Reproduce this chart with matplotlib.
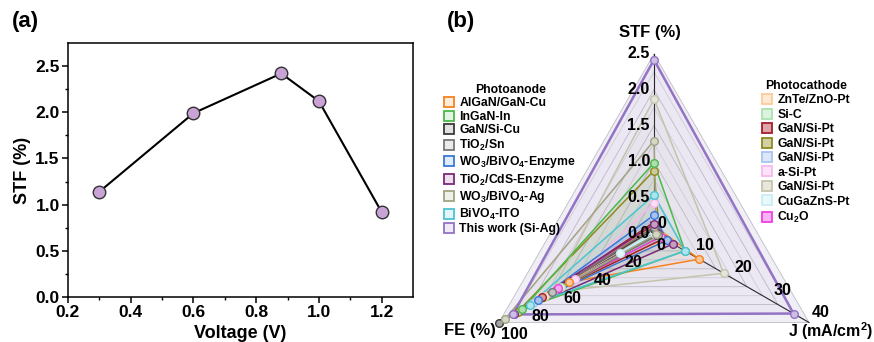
import numpy as np
import matplotlib
matplotlib.use("Agg")
import matplotlib.pyplot as plt
from matplotlib.lines import Line2D
from matplotlib.colors import to_rgb



plt.rcParams["font.family"]=["Liberation Sans","DejaVu Sans"]
plt.rcParams["font.weight"]="bold"
plt.rcParams["mathtext.fontset"]="custom"
plt.rcParams["mathtext.rm"]="Liberation Sans:bold"
plt.rcParams["mathtext.bf"]="Liberation Sans:bold"
plt.rcParams["mathtext.default"]="regular"



# panel (a)
voltage=[0.3,0.6,0.88,1.0,1.2]
stf_a=[1.14,1.99,2.42,2.12,0.92]

# panel (b): radar axes
stf_ticks=[0.0,0.5,1.0,1.5,2.0,2.5]
j_ticks=[0,10,20,30,40]
fe_ticks=[0,20,40,60,80,100]
STF_MAX=2.5
J_MAX=40
FE_MAX=100

anode_names=["AlGaN/GaN-Cu","InGaN-In","GaN/Si-Cu","TiO$_2$/Sn","WO$_3$/BiVO$_4$-Enzyme","TiO$_2$/CdS-Enzyme","WO$_3$/BiVO$_4$-Ag","BiVO$_4$-ITO","This work (Si-Ag)"]
anode_colors=["#f7821e","#4cb84c","#3a3a3a","#777777","#3a78d8","#7b2a78","#a3a383","#4cc4d4","#9273c4"]
anode_stf=[0.10,0.98,0.05,0.08,0.25,0.12,1.29,0.53,2.42]
anode_j=[11.7,8.0,0.8,1.0,3.3,4.9,0.6,8.0,36.0]
anode_fe=[55,85,100,66,75,90,96,80,91]

cathode_names=["ZnTe/ZnO-Pt","Si-C","GaN/Si-Pt","GaN/Si-Pt","GaN/Si-Pt","a-Si-Pt","GaN/Si-Pt","CuGaZnS-Pt","Cu$_2$O"]
cathode_colors=["#ffc99a","#a9e2b0","#a51d2a","#8e8a1e","#a9c4f0","#f8b8ec","#c4c4ac","#c8eef2","#f040e0"]
cathode_stf=[0.05,0.10,0.15,0.87,0.20,0.42,1.87,0.02,0.11]
cathode_j=[3.0,2.0,2.5,1.5,1.2,1.0,18.0,0.3,1.8]
cathode_fe=[70,60,72,88,78,51,66,22,62]

ANGLES=np.radians([90,-30,210])  # STF, J, FE



def _light(c,f=0.55):
	r,g,b=to_rgb(c)
	return (r+(1-r)*f,g+(1-g)*f,b+(1-b)*f)



def _proj(stf,j,fe):
	r=np.array([stf/STF_MAX,j/J_MAX,fe/FE_MAX])
	return r*np.cos(ANGLES),r*np.sin(ANGLES)



fig=plt.figure(figsize=(8.74,3.42),dpi=100)

# ---------------- (a)
ax=fig.add_axes([68/874,45/342,345/874,254/342])
ax.plot(voltage,stf_a,"-",color="black",linewidth=1.5,zorder=2)
ax.plot(voltage,stf_a,"o",markersize=9,markerfacecolor="#c9a3d6",markeredgecolor="#333333",markeredgewidth=1.0,zorder=3)
ax.set_xlim(0.2,1.3)
ax.set_ylim(0,2.75)
ax.set_xticks([0.2,0.4,0.6,0.8,1.0,1.2])
ax.set_yticks([0.0,0.5,1.0,1.5,2.0,2.5])
ax.set_xticks(np.arange(0.3,1.3,0.2),minor=True)
ax.set_yticks(np.arange(0.25,2.75,0.5),minor=True)
ax.tick_params(which="major",direction="out",length=4,width=1.1,labelsize=12.5,pad=2)
ax.tick_params(which="minor",direction="out",length=2.5,width=1.0)
for lab in ax.get_xticklabels()+ax.get_yticklabels():
	lab.set_fontweight("bold")
for s in ax.spines.values():
	s.set_linewidth(1.1)
ax.set_xlabel("Voltage (V)",fontsize=13,fontweight="bold",labelpad=3)
ax.set_ylabel("STF (%)",fontsize=13,fontweight="bold",labelpad=3)
fig.text(12/874,1-22/342,"(a)",fontsize=16,fontweight="bold",va="center",ha="left")

# ---------------- (b)
CX,CY,R=654,233,179
bx=fig.add_axes([420/874,0,454/874,1])
bx.set_xlim((420-CX)/R,(874-CX)/R)
bx.set_ylim(-(342-CY)/R,CY/R)
bx.axis("off")

ox,oy=np.cos(ANGLES),np.sin(ANGLES)
bx.fill(ox,oy,color="#f1eff6",zorder=0,linewidth=0)
for k in range(1,11):
	f=k/10
	bx.plot(np.append(ox,ox[0])*f,np.append(oy,oy[0])*f,"-",color="#d2d2d8" if k%2 else "#bdbdc6",linewidth=0.6,zorder=1)
for a in ANGLES:
	bx.plot([0,np.cos(a)],[0,np.sin(a)],"-",color="#222222",linewidth=0.8,zorder=1)

series=list(zip(cathode_names,cathode_colors,cathode_stf,cathode_j,cathode_fe))+list(zip(anode_names,anode_colors,anode_stf,anode_j,anode_fe))
for name,c,s,j,f in series:
	x,y=_proj(s,j,f)
	lw=1.8 if name.startswith("This") else 1.1
	bx.fill(x,y,color=c,alpha=0.06,linewidth=0,zorder=2)
	bx.plot(np.append(x,x[0]),np.append(y,y[0]),"-",color=c,linewidth=lw,zorder=3)
	bx.plot(x,y,"o",markersize=5.5,markerfacecolor=_light(c),markeredgecolor=c,markeredgewidth=1.0,zorder=4)

px=1/R
for v in stf_ticks:
	x,y=_proj(v,0,0)
	bx.text(x[0]-4*px,y[0],"%.1f"%v,ha="right",va="center",fontsize=11.5,fontweight="bold",zorder=5)
for v in j_ticks:
	x,y=_proj(0,v,0)
	bx.text(x[1]+3*px,y[1]+10*px,"%d"%v,ha="left",va="center",fontsize=11.5,fontweight="bold",zorder=5)
for v in fe_ticks:
	x,y=_proj(0,0,v)
	bx.text(x[2]+2*px,y[2]-12*px,"%d"%v,ha="left",va="center",fontsize=11.5,fontweight="bold",zorder=5)

bx.text((650-CX)*px,(CY-32)*px,"STF (%)",ha="center",va="center",fontsize=12,fontweight="bold")
bx.text((470-CX)*px,(CY-331)*px,"FE (%)",ha="center",va="center",fontsize=12,fontweight="bold")
bx.text((873-CX)*px,(CY-331)*px,"J (mA/cm$^2$)",ha="right",va="center",fontsize=11.5,fontweight="bold")
fig.text(447/874,1-22/342,"(b)",fontsize=16,fontweight="bold",va="center",ha="left")

def _handles(colors,face_f):
	return [Line2D([],[],linestyle="none",marker="s",markersize=7,markerfacecolor=_light(c,face_f),markeredgecolor=c,markeredgewidth=1.3) for c in colors]

leg1=bx.legend(_handles(anode_colors,0.85),anode_names,title="Photoanode",loc="upper left",bbox_to_anchor=(444/874,1-84/342),bbox_transform=fig.transFigure,frameon=False,fontsize=8.8,title_fontproperties={"weight":"bold","size":8.8},handlelength=0.8,handletextpad=0.45,labelspacing=0.12,borderaxespad=0,borderpad=0)
bx.add_artist(leg1)
bx.legend(_handles(cathode_colors,0.6),cathode_names,title="Photocathode",loc="upper left",bbox_to_anchor=(762/874,1-80/342),bbox_transform=fig.transFigure,frameon=False,fontsize=8.8,title_fontproperties={"weight":"bold","size":8.8},handlelength=0.8,handletextpad=0.45,labelspacing=0.2,borderaxespad=0,borderpad=0)

fig.savefig("out.png",dpi=100)
